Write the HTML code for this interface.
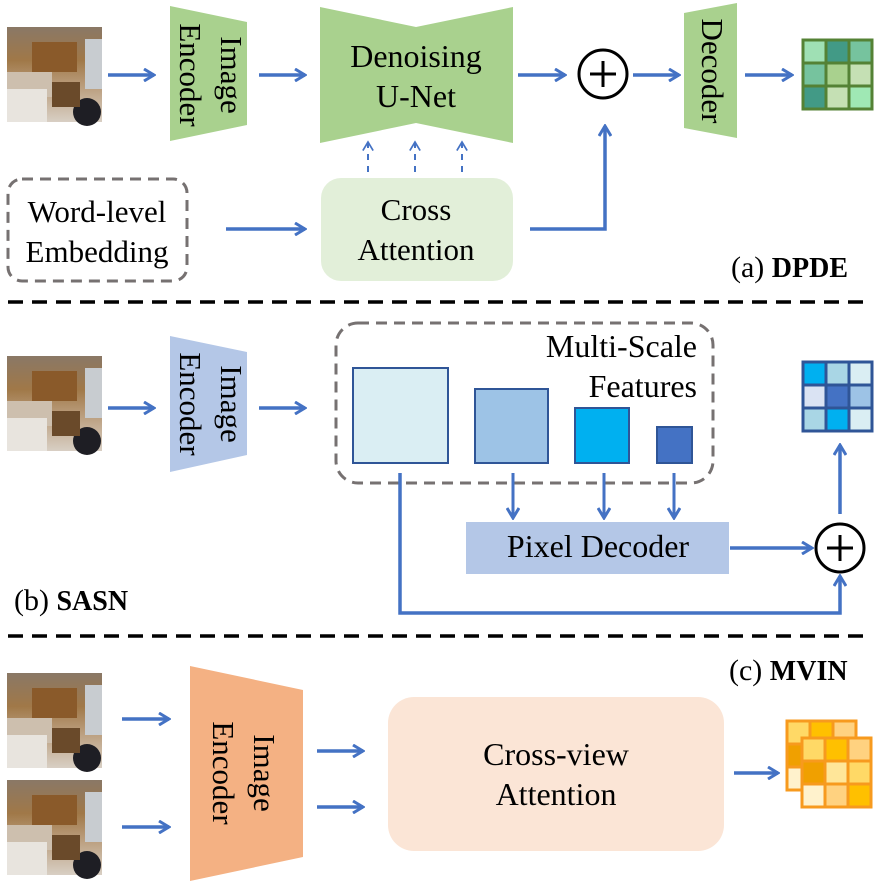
<!DOCTYPE html>
<html><head><meta charset="utf-8"><style>html,body{margin:0;padding:0;background:#fff}svg{display:block}text{font-family:"Liberation Serif",serif;fill:#000}</style></head><body>
<svg width="876" height="883" viewBox="0 0 876 883" xmlns="http://www.w3.org/2000/svg">
<defs>
<marker id="ah" viewBox="0 0 14 14" refX="12" refY="7" markerWidth="14" markerHeight="14" markerUnits="userSpaceOnUse" orient="auto"><path d="M2,1 L12,7 L2,13" fill="none" stroke="#4472c4" stroke-width="3"/></marker>
<marker id="ahs" viewBox="0 0 14 14" refX="12" refY="7" markerWidth="12" markerHeight="12" markerUnits="userSpaceOnUse" orient="auto"><path d="M2,1 L12,7 L2,13" fill="none" stroke="#4472c4" stroke-width="2"/></marker>
<linearGradient id="wall" x1="0" y1="0" x2="0" y2="1"><stop offset="0" stop-color="#8a7866"/><stop offset="0.35" stop-color="#a07848"/><stop offset="0.6" stop-color="#b89a78"/><stop offset="1" stop-color="#d8cfc4"/></linearGradient>
<g id="photo">
<rect x="0" y="0" width="95" height="95" fill="url(#wall)"/>
<rect x="25" y="15" width="45" height="30" fill="#8a5a2a"/>
<rect x="78" y="12" width="17" height="50" fill="#c8ccd0"/>
<rect x="0" y="45" width="45" height="25" fill="#cdbfae"/>
<rect x="0" y="62" width="40" height="33" fill="#e8e4de"/>
<ellipse cx="80" cy="85" rx="14" ry="14" fill="#1e1e24"/>
<rect x="45" y="55" width="28" height="25" fill="#6a4a2a"/>
</g>
</defs>

<!-- (a) DPDE -->
<use href="#photo" x="7" y="27"/>
<line x1="108" y1="75" x2="154" y2="75" stroke="#4472c4" stroke-width="3.5" marker-end="url(#ah)"/>
<polygon points="170,6 247,22 247,125 170,141" fill="#a9d18e"/>
<text transform="translate(221,75) rotate(90)" text-anchor="middle" font-size="31">Image</text>
<text transform="translate(180,75) rotate(90)" text-anchor="middle" font-size="31">Encoder</text>
<line x1="259" y1="75" x2="305" y2="75" stroke="#4472c4" stroke-width="3.5" marker-end="url(#ah)"/>
<polygon points="320,7 416,27 513,7 513,143 416,123 320,143" fill="#a9d18e"/>
<text x="416" y="67" text-anchor="middle" font-size="32">Denoising</text>
<text x="416" y="107" text-anchor="middle" font-size="32">U-Net</text>
<line x1="518" y1="75" x2="565" y2="75" stroke="#4472c4" stroke-width="3.5" marker-end="url(#ah)"/>
<circle cx="603" cy="74" r="24" fill="#fff" stroke="#000" stroke-width="3"/>
<line x1="590" y1="74" x2="616" y2="74" stroke="#000" stroke-width="3"/>
<line x1="603" y1="61" x2="603" y2="87" stroke="#000" stroke-width="3"/>
<line x1="633" y1="75" x2="679" y2="75" stroke="#4472c4" stroke-width="3.5" marker-end="url(#ah)"/>
<polygon points="684,13 737,3 737,138 684,128" fill="#a9d18e"/>
<text transform="translate(702,71) rotate(90)" text-anchor="middle" font-size="31">Decoder</text>
<line x1="745" y1="75" x2="792" y2="75" stroke="#4472c4" stroke-width="3.5" marker-end="url(#ah)"/>
<g stroke="#548235" stroke-width="3">
<rect x="803" y="40" width="23" height="23" fill="#9fe0b4"/><rect x="826" y="40" width="23" height="23" fill="#429a86"/><rect x="849" y="40" width="23" height="23" fill="#76c39e"/>
<rect x="803" y="63" width="23" height="23" fill="#76c39e"/><rect x="826" y="63" width="23" height="23" fill="#a9d18e"/><rect x="849" y="63" width="23" height="23" fill="#c5e0b4"/>
<rect x="803" y="86" width="23" height="23" fill="#429a86"/><rect x="826" y="86" width="23" height="23" fill="#c5e0b4"/><rect x="849" y="86" width="23" height="23" fill="#9fe8b4"/>
</g>
<g stroke="#4472c4" stroke-width="2" stroke-dasharray="6,6">
<line x1="368" y1="172" x2="368" y2="142" marker-end="url(#ahs)"/>
<line x1="415" y1="172" x2="415" y2="142" marker-end="url(#ahs)"/>
<line x1="462" y1="172" x2="462" y2="142" marker-end="url(#ahs)"/>
</g>
<rect x="321" y="178" width="192" height="103" rx="20" fill="#e2efd9"/>
<text x="416" y="220" text-anchor="middle" font-size="31">Cross</text>
<text x="416" y="260" text-anchor="middle" font-size="31">Attention</text>
<rect x="8" y="179" width="179" height="102" rx="14" fill="none" stroke="#767171" stroke-width="3" stroke-dasharray="11,7"/>
<text x="97" y="222" text-anchor="middle" font-size="31">Word-level</text>
<text x="97" y="262" text-anchor="middle" font-size="31">Embedding</text>
<line x1="226" y1="229" x2="305" y2="229" stroke="#4472c4" stroke-width="3.5" marker-end="url(#ah)"/>
<polyline points="530,229 605,229 605,126" fill="none" stroke="#4472c4" stroke-width="3.5" marker-end="url(#ah)"/>
<text x="731" y="277" font-size="30">(a) <tspan font-weight="bold" font-size="28">DPDE</tspan></text>

<line x1="8" y1="302" x2="870" y2="302" stroke="#000" stroke-width="3.5" stroke-dasharray="15,9"/>

<!-- (b) SASN -->
<use href="#photo" x="7" y="356"/>
<line x1="108" y1="408" x2="154" y2="408" stroke="#4472c4" stroke-width="3.5" marker-end="url(#ah)"/>
<polygon points="170,336 247,352 247,455 170,472" fill="#b4c7e7"/>
<text transform="translate(221,404) rotate(90)" text-anchor="middle" font-size="31">Image</text>
<text transform="translate(180,404) rotate(90)" text-anchor="middle" font-size="31">Encoder</text>
<line x1="259" y1="408" x2="305" y2="408" stroke="#4472c4" stroke-width="3.5" marker-end="url(#ah)"/>
<rect x="336" y="323" width="377" height="160" rx="22" fill="none" stroke="#767171" stroke-width="3" stroke-dasharray="11,7"/>
<text x="697" y="357" text-anchor="end" font-size="32">Multi-Scale</text>
<text x="697" y="397" text-anchor="end" font-size="32">Features</text>
<g stroke="#2f5597" stroke-width="2">
<rect x="353" y="368" width="95" height="95" fill="#daeef3"/>
<rect x="475" y="389" width="73" height="74" fill="#9dc3e6"/>
<rect x="575" y="408" width="54" height="55" fill="#00b0f0"/>
<rect x="657" y="427" width="35" height="36" fill="#4472c4"/>
</g>
<g stroke="#4472c4" stroke-width="3">
<line x1="513" y1="473" x2="513" y2="518" marker-end="url(#ah)"/>
<line x1="604" y1="473" x2="604" y2="518" marker-end="url(#ah)"/>
<line x1="674" y1="473" x2="674" y2="518" marker-end="url(#ah)"/>
</g>
<rect x="466" y="522" width="263" height="52" fill="#b4c7e7"/>
<text x="598" y="557" text-anchor="middle" font-size="32">Pixel Decoder</text>
<line x1="730" y1="548" x2="812" y2="548" stroke="#4472c4" stroke-width="3.5" marker-end="url(#ah)"/>
<circle cx="840" cy="548" r="24" fill="#fff" stroke="#000" stroke-width="3"/>
<line x1="827" y1="548" x2="853" y2="548" stroke="#000" stroke-width="3"/>
<line x1="840" y1="535" x2="840" y2="561" stroke="#000" stroke-width="3"/>
<line x1="840" y1="514" x2="840" y2="445" stroke="#4472c4" stroke-width="3.5" marker-end="url(#ah)"/>
<polyline points="400,473 400,613 840,613 840,576" fill="none" stroke="#4472c4" stroke-width="3.5" marker-end="url(#ah)"/>
<g stroke="#2f5597" stroke-width="3">
<rect x="803" y="362" width="23" height="23" fill="#00b0f0"/><rect x="826" y="362" width="23" height="23" fill="#a9d6e5"/><rect x="849" y="362" width="23" height="23" fill="#daeef3"/>
<rect x="803" y="385" width="23" height="23" fill="#dae3f3"/><rect x="826" y="385" width="23" height="23" fill="#4472c4"/><rect x="849" y="385" width="23" height="23" fill="#9dc3e6"/>
<rect x="803" y="408" width="23" height="23" fill="#a9d6e5"/><rect x="826" y="408" width="23" height="23" fill="#00b0f0"/><rect x="849" y="408" width="23" height="23" fill="#daeef3"/>
</g>
<text x="14" y="610" font-size="30">(b) <tspan font-weight="bold" font-size="28">SASN</tspan></text>

<line x1="8" y1="636" x2="870" y2="636" stroke="#000" stroke-width="3.5" stroke-dasharray="15,9"/>

<!-- (c) MVIN -->
<text x="729" y="680" font-size="30">(c) <tspan font-weight="bold" font-size="28">MVIN</tspan></text>
<use href="#photo" x="7" y="673"/>
<use href="#photo" x="7" y="780"/>
<line x1="122" y1="719" x2="169" y2="719" stroke="#4472c4" stroke-width="3.5" marker-end="url(#ah)"/>
<line x1="122" y1="827" x2="169" y2="827" stroke="#4472c4" stroke-width="3.5" marker-end="url(#ah)"/>
<polygon points="190,666 303,690 303,857 190,881" fill="#f4b183"/>
<text transform="translate(254,773) rotate(90)" text-anchor="middle" font-size="31">Image</text>
<text transform="translate(213,773) rotate(90)" text-anchor="middle" font-size="31">Encoder</text>
<line x1="317" y1="751" x2="363" y2="751" stroke="#4472c4" stroke-width="3.5" marker-end="url(#ah)"/>
<line x1="317" y1="807" x2="363" y2="807" stroke="#4472c4" stroke-width="3.5" marker-end="url(#ah)"/>
<rect x="388" y="697" width="336" height="154" rx="26" fill="#fbe5d6"/>
<text x="556" y="765" text-anchor="middle" font-size="32">Cross-view</text>
<text x="556" y="805" text-anchor="middle" font-size="32">Attention</text>
<line x1="734" y1="773" x2="778" y2="773" stroke="#4472c4" stroke-width="3.5" marker-end="url(#ah)"/>
<g stroke="#f79a1e" stroke-width="3">
<rect x="787" y="721" width="23" height="23" fill="#ffd966"/><rect x="810" y="721" width="23" height="23" fill="#ffc000"/><rect x="833" y="721" width="23" height="23" fill="#ffd280"/>
<rect x="787" y="744" width="23" height="23" fill="#f0a000"/><rect x="787" y="767" width="23" height="23" fill="#fff2cc"/>
<rect x="802" y="738" width="23" height="23" fill="#ffd966"/><rect x="825" y="738" width="23" height="23" fill="#ffc000"/><rect x="848" y="738" width="23" height="23" fill="#ffd280"/>
<rect x="802" y="761" width="23" height="23" fill="#f0a000"/><rect x="825" y="761" width="23" height="23" fill="#ffe699"/><rect x="848" y="761" width="23" height="23" fill="#ffd966"/>
<rect x="802" y="784" width="23" height="23" fill="#fff2cc"/><rect x="825" y="784" width="23" height="23" fill="#ffd280"/><rect x="848" y="784" width="23" height="23" fill="#ffc000"/>
</g>
</svg>
</body></html>
